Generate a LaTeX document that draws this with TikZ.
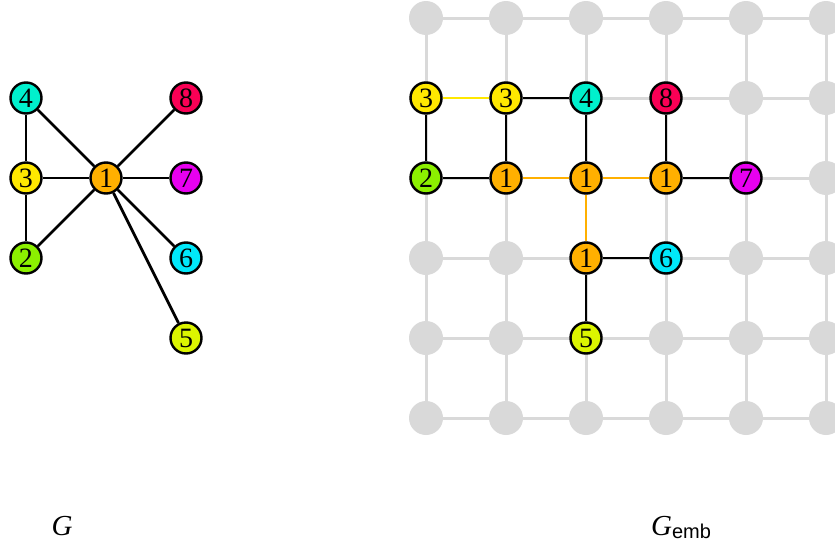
\documentclass[tikz,border=0pt]{standalone}
\usepackage{fontspec}
\setmainfont{Liberation Serif}
\setsansfont{Liberation Sans}
\definecolor{cone}{RGB}{255,176,0}
\definecolor{ctwo}{RGB}{140,240,0}
\definecolor{cthree}{RGB}{255,232,0}
\definecolor{cfour}{RGB}{0,240,205}
\definecolor{cfive}{RGB}{220,245,0}
\definecolor{csix}{RGB}{0,232,250}
\definecolor{cseven}{RGB}{232,0,240}
\definecolor{ceight}{RGB}{250,0,85}
\definecolor{gridgray}{RGB}{217,217,217}
\tikzset{
  vtx/.style={circle, draw=black, line width=2.4pt, minimum size=31pt, inner sep=0pt,
    font=\fontsize{28}{28}\selectfont},
  gpt/.style={circle, fill=gridgray, minimum size=34pt, inner sep=0pt},
  gedge/.style={draw=gridgray, line width=3pt},
  bedge/.style={draw=black, line width=2.7pt},
  cedge/.style={line width=2.4pt, preaction={draw=white, line width=3.6pt}},
  lbl/.style={anchor=base, inner sep=0pt, font=\fontsize{29}{29}\selectfont},
}
\begin{document}
\begin{tikzpicture}[x=1pt, y=-1pt]
\useasboundingbox (0,0) rectangle (835,546);
% ---------- left graph G ----------
\node[vtx, fill=cone]   (n1) at (106,178) {1};
\node[vtx, fill=ctwo]   (n2) at (26,258)  {2};
\node[vtx, fill=cthree] (n3) at (26,178)  {3};
\node[vtx, fill=cfour]  (n4) at (26,98)   {4};
\node[vtx, fill=cfive]  (n5) at (186,338) {5};
\node[vtx, fill=csix]   (n6) at (186,258) {6};
\node[vtx, fill=cseven] (n7) at (186,178) {7};
\node[vtx, fill=ceight] (n8) at (186,98)  {8};
\foreach \t in {n2,n3,n4,n5,n6,n7,n8} \draw[bedge] (n1) -- (\t);
\draw[bedge] (n4) -- (n3);
\draw[bedge] (n3) -- (n2);
% ---------- grid ----------
\foreach \i in {0,...,5} \foreach \j in {0,...,5}
  \node[gpt] (g\i\j) at (426+80*\i, 18+80*\j) {};
\foreach \i [evaluate=\i as \k using int(\i+1)] in {0,...,4}
  \foreach \j in {0,...,5} {
    \draw[gedge] (g\i\j) -- (g\k\j);
    \draw[gedge] (g\j\i) -- (g\j\k);
  }
% ---------- embedded nodes ----------
\node[vtx, fill=cthree] (e3a) at (g01) {3};
\node[vtx, fill=cthree] (e3b) at (g11) {3};
\node[vtx, fill=cfour]  (e4)  at (g21) {4};
\node[vtx, fill=ceight] (e8)  at (g31) {8};
\node[vtx, fill=ctwo]   (e2)  at (g02) {2};
\node[vtx, fill=cone]   (e1a) at (g12) {1};
\node[vtx, fill=cone]   (e1b) at (g22) {1};
\node[vtx, fill=cone]   (e1c) at (g32) {1};
\node[vtx, fill=cseven] (e7)  at (g42) {7};
\node[vtx, fill=cone]   (e1d) at (g23) {1};
\node[vtx, fill=csix]   (e6)  at (g33) {6};
\node[vtx, fill=cfive]  (e5)  at (g24) {5};
% chain edges
\draw[cedge, draw=cthree] (e3a) -- (e3b);
\draw[cedge, draw=cone] (e1a) -- (e1b);
\draw[cedge, draw=cone] (e1b) -- (e1c);
\draw[cedge, draw=cone] (e1b) -- (e1d);
% embedded graph edges
\draw[bedge] (e3a) -- (e2);
\draw[bedge] (e2) -- (e1a);
\draw[bedge] (e3b) -- (e1a);
\draw[bedge] (e3b) -- (e4);
\draw[bedge] (e4) -- (e1b);
\draw[bedge] (e8) -- (e1c);
\draw[bedge] (e1c) -- (e7);
\draw[bedge] (e1d) -- (e6);
\draw[bedge] (e1d) -- (e5);
% ---------- labels ----------
\node[lbl] (lg) at (62,535) {\textit{G}};
\node[lbl] (le) at (681,535) {\textit{G}\raisebox{-3pt}{\fontsize{20}{20}\selectfont\sffamily emb}};
\end{tikzpicture}
\end{document}
